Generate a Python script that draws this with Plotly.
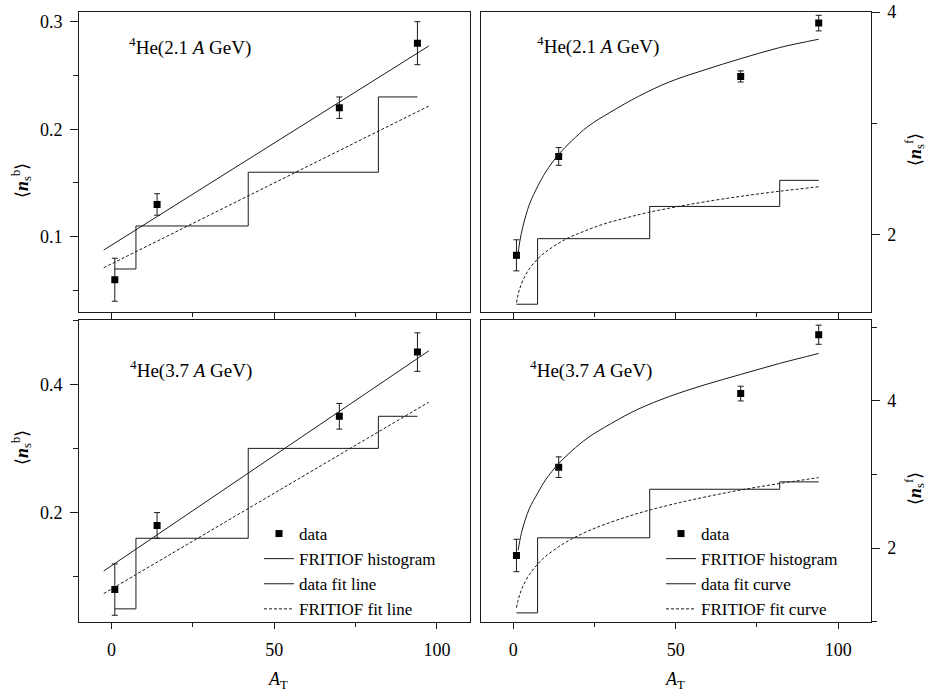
import plotly.graph_objects as go

W, H = 928, 694
FONT = "Liberation Serif"
INK = "#1a1a1a"

# ---------------- data ----------------
A_T = [1, 14, 70, 94]

nb21 = [0.06, 0.13, 0.22, 0.28]
nb21_err = [0.02, 0.01, 0.01, 0.02]
nf21 = [1.81, 2.70, 3.42, 3.90]
nf21_err = [0.14, 0.08, 0.05, 0.07]
nb37 = [0.08, 0.18, 0.35, 0.45]
nb37_err = [0.04, 0.02, 0.02, 0.03]
nf37 = [1.90, 3.10, 4.10, 4.90]
nf37_err = [0.22, 0.14, 0.10, 0.13]

# FRITIOF histograms (bin edges, value of each bin; last value repeated to close)
hist_edges = [1, 7.5, 42, 82, 94]
hist_nb21 = [0.07, 0.11, 0.16, 0.23, 0.23]
hist_nf21 = [1.37, 1.96, 2.25, 2.485, 2.485]
hist_nb37 = [0.05, 0.16, 0.30, 0.35, 0.35]
hist_nf37 = [1.12, 2.14, 2.80, 2.90, 2.90]

# straight fit lines (left panels)
line_x = [-2.4, 97.5]
fit_nb21 = [0.0876, 0.2774]
fritiof_nb21 = [0.0712, 0.2215]
fit_nb37 = [0.109, 0.452]
fritiof_nb37 = [0.0738, 0.372]

# fit curves (right panels)
fit_nf21_x = [1.3, 2, 3, 5, 7.7, 10, 14, 18, 23, 30, 38.5, 48, 59, 70, 82, 94]
fit_nf21_y = [1.78, 1.93, 2.07, 2.27, 2.44, 2.56, 2.72, 2.84, 2.97, 3.10, 3.24, 3.37, 3.48, 3.58, 3.68, 3.755]
fri_nf21_x = [1, 1.5, 2, 3, 5, 7.7, 10, 15.9, 22, 28.2, 35, 41.5, 50, 59, 70, 82, 94]
fri_nf21_y = [1.385, 1.456, 1.509, 1.586, 1.690, 1.782, 1.841, 1.951, 2.029, 2.095, 2.149, 2.196, 2.245, 2.292, 2.341, 2.387, 2.427]
fit_nf37_x = [1.5, 2.5, 3.6, 5, 7.7, 10, 14, 18, 23, 30, 38.5, 48, 59, 70, 82, 94]
fit_nf37_y = [1.97, 2.20, 2.37, 2.54, 2.76, 2.93, 3.15, 3.32, 3.50, 3.69, 3.89, 4.06, 4.22, 4.36, 4.51, 4.645]
fri_nf37_x = [1, 1.5, 2, 3, 5, 7.7, 10, 14, 18, 23, 28.2, 35, 41.5, 50, 59, 70, 82, 94]
fri_nf37_y = [1.19, 1.291, 1.367, 1.483, 1.643, 1.791, 1.888, 2.019, 2.124, 2.231, 2.323, 2.426, 2.511, 2.606, 2.694, 2.79, 2.878, 2.958]

panel_labels = ["<sup>4</sup>He(2.1 <i>A</i> GeV)", "<sup>4</sup>He(2.1 <i>A</i> GeV)",
                "<sup>4</sup>He(3.7 <i>A</i> GeV)", "<sup>4</sup>He(3.7 <i>A</i> GeV)"]
legend_left = ["data", "FRITIOF histogram", "data fit line", "FRITIOF fit line"]
legend_right = ["data", "FRITIOF histogram", "data fit curve", "FRITIOF fit curve"]

# ---------------- figure ----------------
fig = go.Figure()


def add_panel(idx, y, yerr, hist_y, fx, fy, rx, ry, names, legend):
    xa = "x" if idx == 1 else f"x{idx}"
    ya = "y" if idx == 1 else f"y{idx}"
    show = legend is not None
    lg = legend if legend else "legend"
    fig.add_trace(go.Scatter(
        x=A_T, y=y, mode="markers", name=names[0], xaxis=xa, yaxis=ya,
        marker=dict(symbol="square", size=7, color="black"),
        error_y=dict(type="data", array=yerr, color=INK, thickness=1, width=3),
        showlegend=show, legend=lg))
    fig.add_trace(go.Scatter(
        x=hist_edges, y=hist_y, mode="lines", name=names[1], xaxis=xa, yaxis=ya,
        line=dict(color=INK, width=1, shape="hv"), showlegend=show, legend=lg))
    fig.add_trace(go.Scatter(
        x=fx, y=fy, mode="lines", name=names[2], xaxis=xa, yaxis=ya,
        line=dict(color=INK, width=1, shape="spline" if len(fx) > 2 else "linear"),
        showlegend=show, legend=lg))
    fig.add_trace(go.Scatter(
        x=rx, y=ry, mode="lines", name=names[3], xaxis=xa, yaxis=ya,
        line=dict(color=INK, width=1, dash="3px,2px",
                  shape="spline" if len(rx) > 2 else "linear"),
        showlegend=show, legend=lg))


add_panel(1, nb21, nb21_err, hist_nb21, line_x, fit_nb21, line_x, fritiof_nb21, legend_left, None)
add_panel(2, nf21, nf21_err, hist_nf21, fit_nf21_x, fit_nf21_y, fri_nf21_x, fri_nf21_y, legend_right, None)
add_panel(3, nb37, nb37_err, hist_nb37, line_x, fit_nb37, line_x, fritiof_nb37, legend_left, "legend")
add_panel(4, nf37, nf37_err, hist_nf37, fit_nf37_x, fit_nf37_y, fri_nf37_x, fri_nf37_y, legend_right, "legend2")

xl = [79 / W, 469.5 / W]
xr = [480.7 / W, 870.7 / W]
yt = [1 - 312 / H, 1 - 12 / H]
yb = [1 - 621.7 / H, 1 - 320 / H]

tickfont = dict(family=FONT, size=18, color="black")


def xaxis(domain, anchor, labels):
    return dict(domain=domain, anchor=anchor, range=[-10, 110], tick0=0, dtick=50,
                showline=True, mirror=True, linecolor=INK, linewidth=1, automargin=False,
                ticks="outside", ticklen=6, tickcolor=INK, showgrid=False, zeroline=False,
                showticklabels=labels, tickfont=tickfont, ticklabelstandoff=6,
                minor=dict(ticks="outside", ticklen=4, dtick=25, tickcolor=INK, showgrid=False))


def yaxis(domain, anchor, rng, dtick, mdtick, side):
    return dict(domain=domain, anchor=anchor, range=rng, tick0=0, dtick=dtick, side=side,
                showline=True, mirror=True, linecolor=INK, linewidth=1, automargin=False,
                ticks="outside", ticklen=8, tickcolor=INK, showgrid=False, zeroline=False,
                tickfont=tickfont, ticklabelstandoff=4,
                minor=dict(ticks="outside", ticklen=5, dtick=mdtick, tickcolor=INK, showgrid=False))


legend_common = dict(font=dict(family=FONT, size=17, color="black"), bgcolor="rgba(0,0,0,0)",
                     xanchor="left", yanchor="top", tracegroupgap=0, itemwidth=30)

fig.update_layout(
    width=W, height=H, margin=dict(l=0, r=0, t=0, b=0, autoexpand=False),
    paper_bgcolor="white", plot_bgcolor="white",
    font=dict(family=FONT, size=18, color="black"),
    xaxis=xaxis(xl, "y", False), yaxis=yaxis(yt, "x", [0.03, 0.309], 0.1, 0.05, "left"),
    xaxis2=xaxis(xr, "y2", False), yaxis2=yaxis(yt, "x2", [1.3, 4.0], 2, 1, "right"),
    xaxis3=xaxis(xl, "y3", True), yaxis3=yaxis(yb, "x3", [0.03, 0.5], 0.2, 0.1, "left"),
    xaxis4=xaxis(xr, "y4", True), yaxis4=yaxis(yb, "x4", [1.0, 5.1], 2, 1, "right"),
    legend=dict(x=259 / W, y=1 - 516 / H, **legend_common),
    legend2=dict(x=661 / W, y=1 - 516 / H, **legend_common),
    showlegend=True,
)

ann = []
label_pos = [(126.7, 46.7), (535, 45), (128.3, 369.3), (528.3, 369.3)]
for t, (px, py) in zip(panel_labels, label_pos):
    ann.append(dict(text=t, x=px / W, y=1 - py / H, xref="paper", yref="paper",
                    xanchor="left", yanchor="middle", showarrow=False,
                    font=dict(family=FONT, size=19, color="black")))

ytitle_b = "⟨<b><i>n</i></b><sub>s</sub><sup>b</sup>⟩"
ytitle_f = "⟨<b><i>n</i></b><sub>s</sub><sup>f</sup>⟩"
for t, (px, py) in [(ytitle_b, (21, 181)), (ytitle_b, (21, 448)),
                    (ytitle_f, (914, 150)), (ytitle_f, (914, 489))]:
    ann.append(dict(text=t, x=px / W, y=1 - py / H, xref="paper", yref="paper",
                    xanchor="center", yanchor="middle", textangle=-90, showarrow=False,
                    font=dict(family=FONT, size=18, color="black")))

for px in (278, 675):
    ann.append(dict(text="<i>A</i><sub>T</sub>", x=px / W, y=1 - 680 / H, xref="paper", yref="paper",
                    xanchor="center", yanchor="middle", showarrow=False,
                    font=dict(family=FONT, size=18, color="black")))

fig.update_layout(annotations=ann)

fig.write_html("out.html", config={"displayModeBar": False},
               post_script="document.body.style.margin='0';")
